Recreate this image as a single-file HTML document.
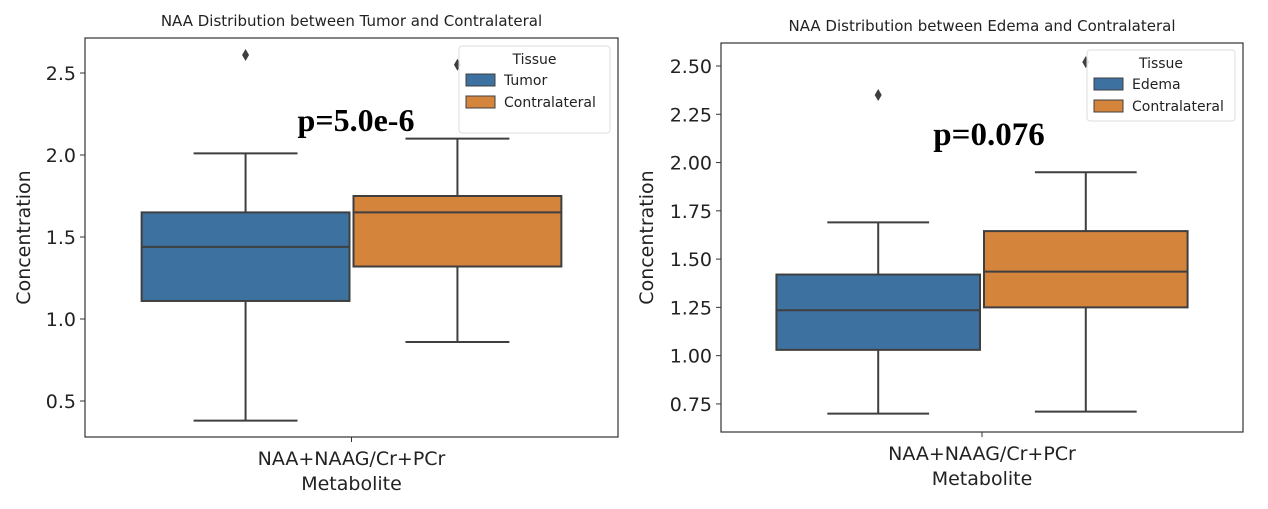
<!DOCTYPE html>
<html><head><meta charset="utf-8"><style>
body{margin:0;background:#fff;width:1268px;height:504px;overflow:hidden}
svg text{font-family:"DejaVu Sans","Liberation Sans",sans-serif;fill:#222}
</style></head><body>
<svg id="s" width="1268" height="504"></svg>
<script>
const categories=["NAA+NAAG/Cr+PCr"];
const leftGroups=["Tumor","Contralateral"];
const leftQ1=[1.11,1.32], leftMed=[1.44,1.65], leftQ3=[1.65,1.75], leftLo=[0.38,0.86], leftHi=[2.01,2.10], leftOut=[2.61,2.55];
const leftTicks=[0.5,1.0,1.5,2.0,2.5];
const leftTickLabels=["0.5","1.0","1.5","2.0","2.5"];
const rightGroups=["Edema","Contralateral"];
const rightQ1=[1.03,1.25], rightMed=[1.235,1.435], rightQ3=[1.42,1.645], rightLo=[0.70,0.71], rightHi=[1.69,1.95], rightOut=[2.35,2.52];
const rightTicks=[0.75,1.0,1.25,1.5,1.75,2.0,2.25,2.5];
const rightTickLabels=["0.75","1.00","1.25","1.50","1.75","2.00","2.25","2.50"];
const colors=["#3d71a0","#d5843c"];
const NS="http://www.w3.org/2000/svg";
const svg=document.getElementById('s');
function mk(t,a,p){const e=document.createElementNS(NS,t);for(const k in a)e.setAttribute(k,a[k]);(p||svg).appendChild(e);return e;}
function chart(o){
  const g=mk('g',{});
  
  
  const y=v=>o.y0-(v-o.v0)*o.unit;
  const t=mk('text',{x:(o.L+o.R)/2,y:o.T-12,'text-anchor':'middle','font-size':15},g);t.textContent=o.title;
  
  const W=o.R-o.L, cx=o.L+W/2, bw=W*0.39;
  o.groups.forEach((gname,i)=>{
    const c=cx+(i===0?-1:1)*bw/2+(i===0?-2:2);
    const bg=mk('g',{},g);
    
    
    const st={stroke:'#3f3f3f','stroke-width':2};
    mk('line',Object.assign({x1:c,x2:c,y1:y(o.hi[i]),y2:y(o.q3[i])},st),bg);
    mk('line',Object.assign({x1:c,x2:c,y1:y(o.q1[i]),y2:y(o.lo[i])},st),bg);
    mk('line',Object.assign({x1:c-bw/4,x2:c+bw/4,y1:y(o.hi[i]),y2:y(o.hi[i])},st),bg);
    mk('line',Object.assign({x1:c-bw/4,x2:c+bw/4,y1:y(o.lo[i]),y2:y(o.lo[i])},st),bg);
    mk('rect',Object.assign({x:c-bw/2,y:y(o.q3[i]),width:bw,height:y(o.q1[i])-y(o.q3[i]),fill:colors[i]},st),bg);
    mk('line',Object.assign({x1:c-bw/2,x2:c+bw/2,y1:y(o.med[i]),y2:y(o.med[i])},st),bg);
    const oy=y(o.out[i]);
    mk('path',{d:`M${c} ${oy-6}L${c+3.5} ${oy}L${c} ${oy+6}L${c-3.5} ${oy}Z`,fill:'#3f3f3f'},bg);
  });
  mk('rect',{x:o.L,y:o.T,width:W,height:o.B-o.T,fill:'none',stroke:'#333','stroke-width':1.2},g);
  o.ticks.forEach((v,i)=>{
    mk('line',{x1:o.L-5,x2:o.L,y1:y(v),y2:y(v),stroke:'#333'},g);
    const tt=mk('text',{x:o.L-9,y:y(v)+7,'text-anchor':'end','font-size':19},g);tt.textContent=o.labels[i];
  });
  mk('line',{x1:cx,x2:cx,y1:o.B,y2:o.B+5,stroke:'#333'},g);
  const xl=mk('text',{x:cx,y:o.B+28,'text-anchor':'middle','font-size':19},g);xl.textContent=categories[0];
  const xt=mk('text',{x:cx,y:o.B+53,'text-anchor':'middle','font-size':19},g);xt.textContent='Metabolite';
  
  const yt=mk('text',{x:0,y:0,'text-anchor':'middle','font-size':19,transform:`translate(${o.yx},${(o.T+o.B)/2}) rotate(-90)`},g);yt.textContent='Concentration';
  
  const lg=mk('g',{},g);
  
  mk('rect',{x:o.lx,y:o.ly,width:o.lw,height:o.lh,rx:3,fill:'#fff','fill-opacity':0.85,stroke:'#ddd'},lg);
  const lt=mk('text',{x:o.lx+o.lw/2,y:o.ly+18,'text-anchor':'middle','font-size':14},lg);lt.textContent='Tissue';
  o.groups.forEach((gname,i)=>{
    const ry=o.ly+28+i*22;
    mk('rect',{x:o.lx+7,y:ry,width:29,height:12,fill:colors[i],stroke:'#3f3f3f','stroke-width':1},lg);
    const e=mk('text',{x:o.lx+45,y:ry+11,'font-size':14},lg);e.textContent=gname;
    
  });
  const p=mk('text',{x:o.px,y:o.py,'text-anchor':'middle','font-size':o.pf,'font-weight':'bold',style:'font-family:"Liberation Serif",serif;fill:#000'},g);p.textContent=o.p;
  
}
chart({name:'tumor-chart',title:'NAA Distribution between Tumor and Contralateral',L:85,R:618,T:38,B:437,y0:73,v0:2.5,unit:164,
  groups:leftGroups,q1:leftQ1,med:leftMed,q3:leftQ3,lo:leftLo,hi:leftHi,out:leftOut,ticks:leftTicks,labels:leftTickLabels,
  yx:30,lx:459,ly:46,lw:151,lh:87,p:'p=5.0e-6',pf:32,px:356,py:131});
chart({name:'edema-chart',title:'NAA Distribution between Edema and Contralateral',L:721,R:1243,T:43,B:432,y0:66,v0:2.5,unit:193.1,
  groups:rightGroups,q1:rightQ1,med:rightMed,q3:rightQ3,lo:rightLo,hi:rightHi,out:rightOut,ticks:rightTicks,labels:rightTickLabels,
  yx:653,lx:1087,ly:50,lw:148,lh:71,p:'p=0.076',pf:33,px:989,py:145});
</script>
</body></html>
